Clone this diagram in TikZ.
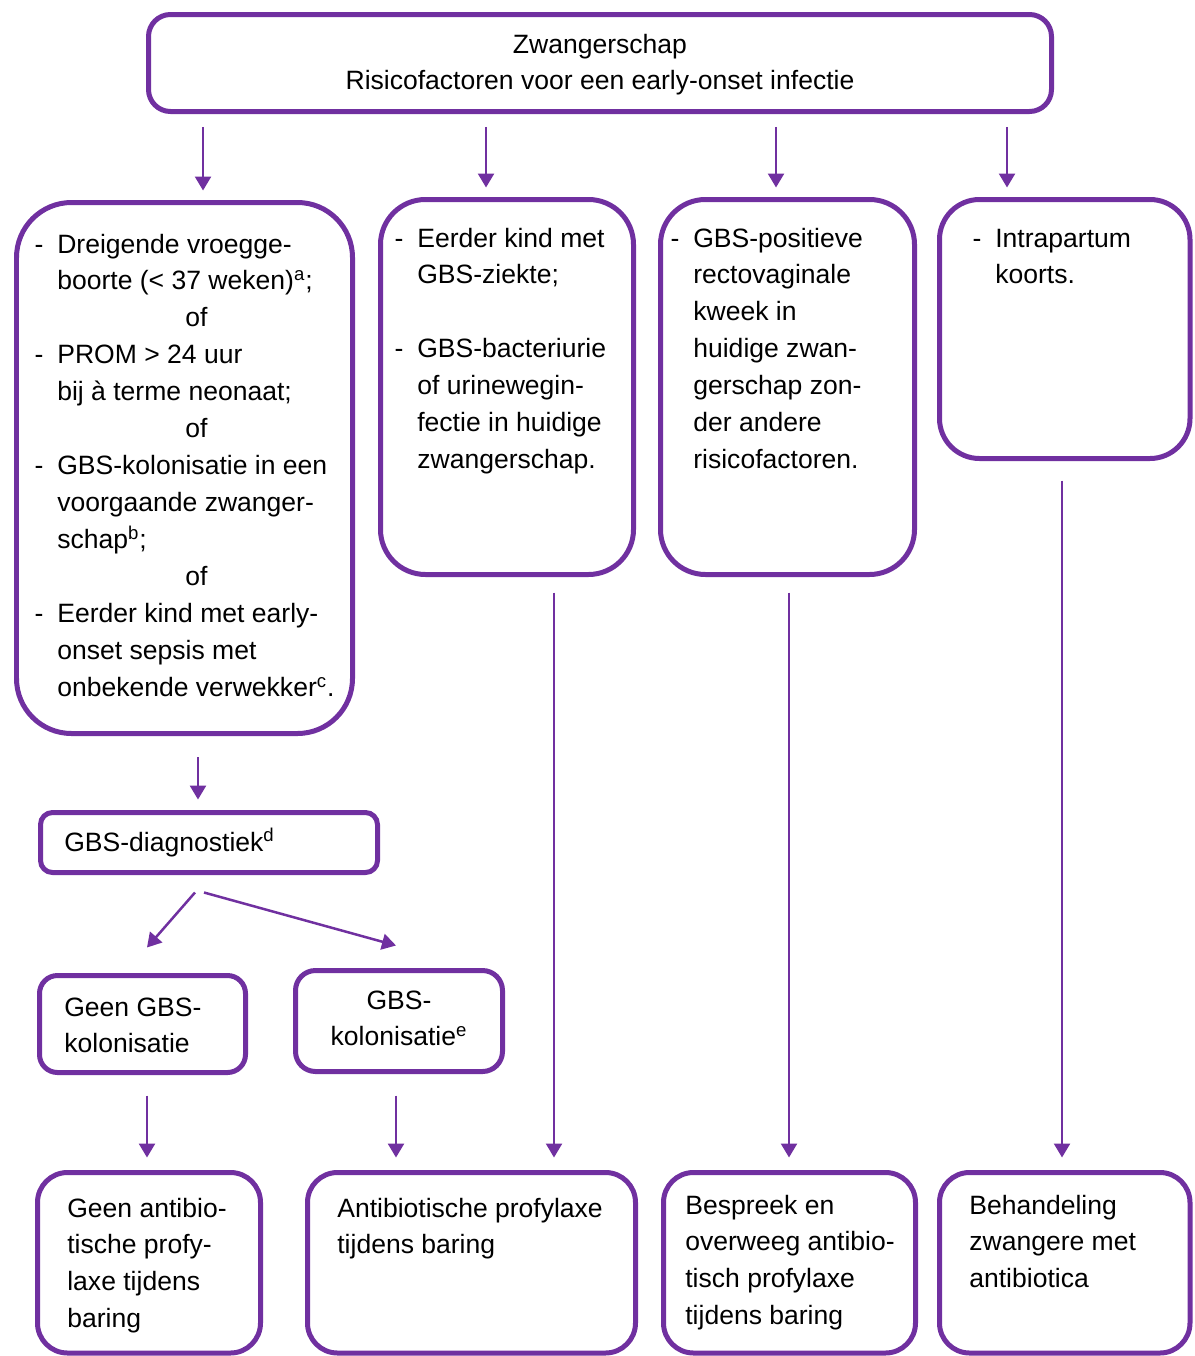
\documentclass[tikz,border=0pt]{standalone}
\usepackage{fontspec}
\setmainfont{Liberation Sans}
\usetikzlibrary{arrows.meta,fit}
\definecolor{paars}{HTML}{7030A0}
\newcommand\fs{\fontsize{15.1}{21.05}\selectfont}
\newcommand\streep{\leavevmode\llap{-\hspace{0.28cm}}}
\newcommand\ofr{\hspace*{2.56cm}of}
\begin{document}
\begin{tikzpicture}[x=0.02cm, y=-0.02cm, font=\fs, line join=round, >={Triangle[length=0.28cm,width=0.32cm]},
  box/.style={draw=paars, line width=0.1cm, inner sep=0pt},
  txt/.style={anchor=base west, inner sep=0pt},
  pijl/.style={->, color=paars, line width=0.05cm}]
\useasboundingbox (0,0) rectangle (1194,1356);
% boxes
\node[box, rounded corners=0.44cm, fit={(148.5,14.5) (1051.5,111.5)}] (top) {};
\node[box, rounded corners=1.1cm, fit={(16.5,202.5) (352.5,733.5)}] (risk) {};
\node[box, rounded corners=0.9cm, fit={(380.5,199.5) (633.5,574.5)}] (hist) {};
\node[box, rounded corners=0.9cm, fit={(660.5,199.5) (914.5,574.5)}] (kweek) {};
\node[box, rounded corners=0.8cm, fit={(939.5,199.5) (1190,458.5)}] (koorts) {};
\node[box, rounded corners=0.24cm, fit={(40.5,812.5) (377.5,872.5)}] (diag) {};
\node[box, rounded corners=0.36cm, fit={(39.5,975.5) (245.5,1072.5)}] (geen) {};
\node[box, rounded corners=0.4cm, fit={(295.5,970.5) (502.5,1071.5)}] (kolon) {};
\node[box, rounded corners=0.6cm, fit={(37.5,1172.5) (260.5,1353)}] (prof0) {};
\node[box, rounded corners=0.6cm, fit={(307.5,1172.5) (635.5,1353)}] (prof1) {};
\node[box, rounded corners=0.6cm, fit={(663.5,1172.5) (915.5,1353)}] (prof2) {};
\node[box, rounded corners=0.6cm, fit={(939.5,1172.5) (1190,1353)}] (prof3) {};
% texts
\node[anchor=base, inner sep=0pt] (toptxt) at (600,53) {\parbox[t]{12cm}{\centering Zwangerschap\\Risicofactoren voor een early-onset infectie}};
\node[txt] (risktxt) at (57,253) {\parbox[t]{7cm}{\raggedright
\streep Dreigende vroegge-\\
boorte (< 37 weken)\textsuperscript{a};\\
\ofr\\
\streep PROM > 24 uur\\
bij à terme neonaat;\\
\ofr\\
\streep GBS-kolonisatie in een\\
voorgaande zwanger-\\
schap\textsuperscript{b};\\
\ofr\\
\streep Eerder kind met early-\\
onset sepsis met\\
onbekende verwekker\textsuperscript{c}.}};
\node[txt] (histtxt) at (417,247) {\parbox[t]{5cm}{\raggedright
\streep Eerder kind met\\
GBS-ziekte;\\
\mbox{}\\
\streep GBS-bacteriurie\\
of urinewegin-\\
fectie in huidige\\
zwangerschap.}};
\node[txt] (kweektxt) at (693,247) {\parbox[t]{5cm}{\raggedright
\streep GBS-positieve\\
rectovaginale\\
kweek in\\
huidige zwan-\\
gerschap zon-\\
der andere\\
risicofactoren.}};
\node[txt] (koortstxt) at (995,247) {\parbox[t]{5cm}{\raggedright
\streep Intrapartum\\
koorts.}};
\node[txt] (diagtxt) at (64,851) {GBS-diagnostiek\textsuperscript{d}};
\node[txt] (geentxt) at (64,1016) {\parbox[t]{5cm}{\raggedright Geen GBS-\\kolonisatie}};
\node[anchor=base, inner sep=0pt] (kolontxt) at (399,1009) {\parbox[t]{5cm}{\centering GBS-\\kolonisatie\textsuperscript{e}}};
\node[txt] (prof0txt) at (67,1217) {\parbox[t]{5cm}{\raggedright Geen antibio-\\tische profy-\\laxe tijdens\\baring}};
\node[txt] (prof1txt) at (337,1217) {\parbox[t]{6cm}{\raggedright Antibiotische profylaxe\\tijdens baring}};
\node[txt] (prof2txt) at (685,1214) {\parbox[t]{5cm}{\raggedright Bespreek en\\overweeg antibio-\\tisch profylaxe\\tijdens baring}};
\node[txt] (prof3txt) at (969,1214) {\parbox[t]{5cm}{\raggedright Behandeling\\zwangere met\\antibiotica}};
% arrows
\foreach \x/\b in {203/risk,486/hist,776/kweek,1007/koorts}
  \draw[pijl, shorten <=0.26cm, shorten >=0.19cm] (\x,0 |- top.south) -- (\x,0 |- \b.north);
\draw[pijl, shorten <=0.42cm, shorten >=0.21cm] (198,0 |- risk.south) -- (198,0 |- diag.north);
\draw[pijl] ([shift={(-14,17.5)}]diag.south) -- ([shift={(4.5,-25.5)}]geen.north);
\draw[pijl] ([shift={(-5,17.5)}]diag.south) -- ([shift={(-3,-22.5)}]kolon.north);
\draw[pijl, shorten <=0.41cm, shorten >=0.25cm] (147,0 |- geen.south) -- (147,0 |- prof0.north);
\draw[pijl, shorten <=0.43cm, shorten >=0.25cm] (396,0 |- kolon.south) -- (396,0 |- prof1.north);
\foreach \x/\a/\b/\s in {554/hist/prof1/0.31cm,789/kweek/prof2/0.31cm,1062/koorts/prof3/0.39cm}
  \draw[pijl, shorten <=\s, shorten >=0.25cm] (\x,0 |- \a.south) -- (\x,0 |- \b.north);
\end{tikzpicture}
\end{document}
